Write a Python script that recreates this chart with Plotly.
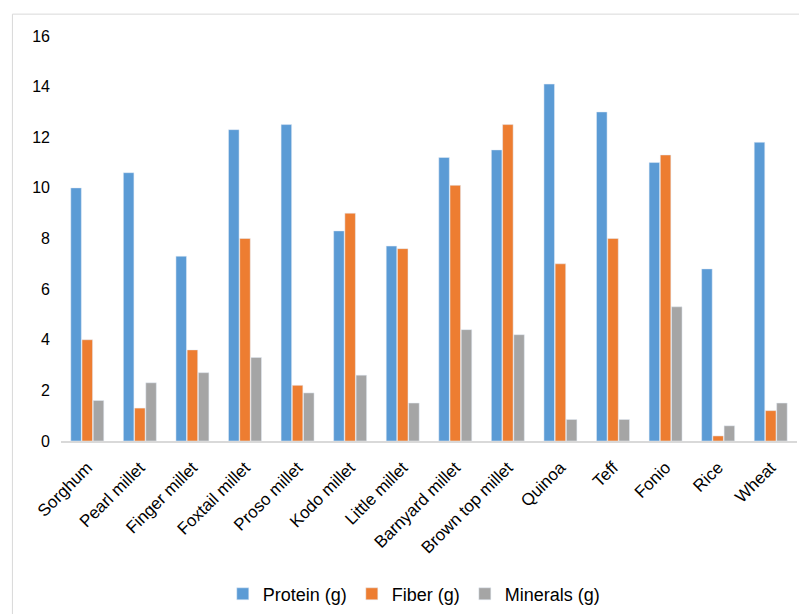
import plotly.graph_objects as go

grains = ["Sorghum", "Pearl millet", "Finger millet", "Foxtail millet", "Proso millet",
          "Kodo millet", "Little millet", "Barnyard millet", "Brown top millet", "Quinoa",
          "Teff", "Fonio", "Rice", "Wheat"]
protein = [10.0, 10.6, 7.3, 12.3, 12.5, 8.3, 7.7, 11.2, 11.5, 14.1, 13.0, 11.0, 6.8, 11.8]
fiber = [4.0, 1.3, 3.6, 8.0, 2.2, 9.0, 7.6, 10.1, 12.5, 7.0, 8.0, 11.3, 0.2, 1.2]
minerals = [1.6, 2.3, 2.7, 3.3, 1.9, 2.6, 1.5, 4.4, 4.2, 0.85, 0.85, 5.3, 0.6, 1.5]

fig = go.Figure()
fig.add_bar(x=grains, y=protein, name="Protein (g)", marker_color="#5B9BD5")
fig.add_bar(x=grains, y=fiber, name="Fiber (g)", marker_color="#ED7D31")
fig.add_bar(x=grains, y=minerals, name="Minerals (g)", marker_color="#A5A5A5")

# frame around chart area
fig.add_shape(type="rect", xref="paper", yref="paper", x0=-0.066, x1=1.05, y0=-0.5, y1=1.054,
              line=dict(color="#d9d9d9", width=1), layer="below")

fig.update_layout(
    width=807, height=614,
    margin=dict(l=53, r=18, t=28, b=181, autoexpand=False),
    plot_bgcolor="white", paper_bgcolor="white",
    barmode="group", bargap=0.36, bargroupgap=0.06,
    font=dict(family="Liberation Sans, Arial", size=16, color="#000"),
    showlegend=True,
    legend=dict(orientation="h", x=0.48, xanchor="center", y=-0.378, yanchor="middle",
                font=dict(size=18), itemwidth=30, traceorder="normal"),
    xaxis=dict(tickangle=-45, showgrid=False, showline=True, linecolor="#d9d9d9", linewidth=2,
               ticks="", tickfont=dict(size=17), ticklabelstandoff=8, automargin=False),
    yaxis=dict(range=[0, 16], dtick=2, showgrid=False, zeroline=False, showline=False,
               ticks="", tickfont=dict(size=16), ticklabelstandoff=10, automargin=False),
)

fig.write_html("out.html")
